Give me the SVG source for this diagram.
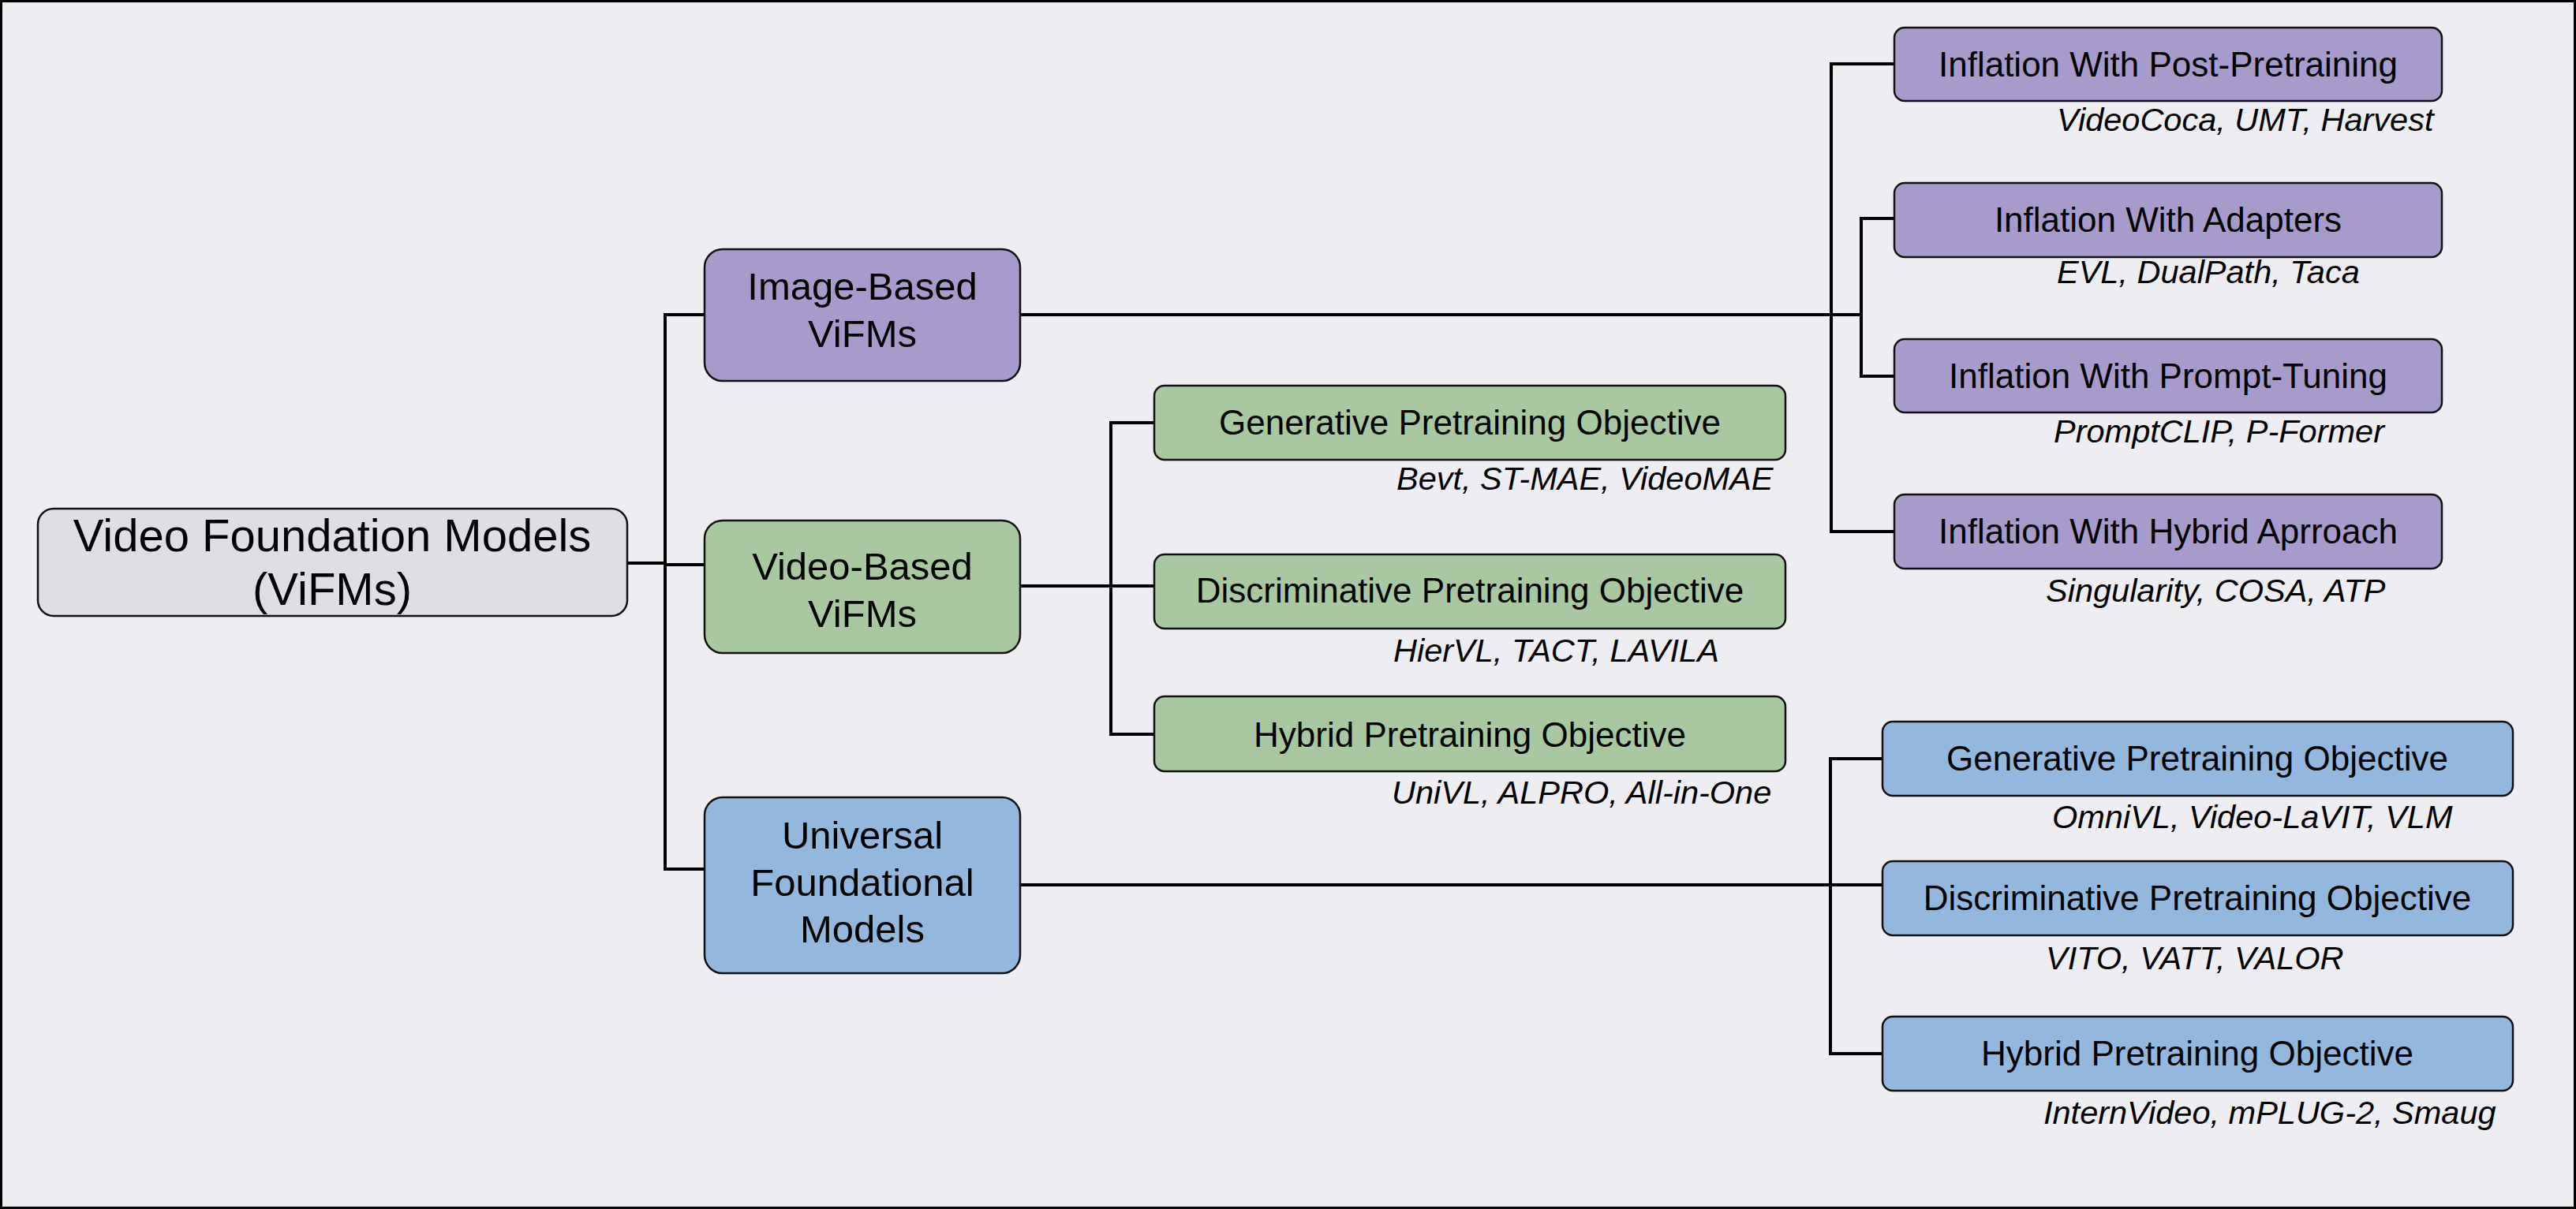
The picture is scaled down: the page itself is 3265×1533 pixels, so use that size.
<svg xmlns="http://www.w3.org/2000/svg" width="3265" height="1533" viewBox="0 0 3265 1533">
<style>
.box{stroke:#111;stroke-width:2.5}
.root{fill:#dfdee4}
.pur{fill:#a69bcb}
.grn{fill:#a9c8a2}
.blu{fill:#94b7de}
.lbl{font-family:"Liberation Sans",Arial,sans-serif;fill:#000;text-anchor:middle}
.cit{font-family:"Liberation Sans",Arial,sans-serif;font-style:italic;font-size:41.5px;fill:#000}
.s44{font-size:44px}
.s49{font-size:49px}
.s58{font-size:58px}
.conn{stroke:#000;stroke-width:4;fill:none;stroke-linecap:square}
</style>
<rect x="1.5" y="1.5" width="3262" height="1530" fill="#eeedf2" stroke="#000" stroke-width="3"/>
<g id="connectors">
<path class="conn" d="M795,714 H843 M843,399 V1102 M843,399 H893 M843,716 H893 M843,1102 H893"/>
<path class="conn" d="M1293,399 H2359 M2321,81 V674 M2359,277 V477 M2321,81 H2401 M2359,277 H2401 M2359,477 H2401 M2321,674 H2401"/>
<path class="conn" d="M1293,743 H1463 M1408,536 V931 M1408,536 H1463 M1408,931 H1463"/>
<path class="conn" d="M1293,1122 H2386 M2320,962 V1336 M2320,962 H2386 M2320,1336 H2386"/>
</g>
<g id="root">
<rect class="box root" x="48" y="645" width="747" height="136" rx="20"/>
<text class="lbl s58" x="421" y="699">Video Foundation Models</text>
<text class="lbl s58" x="421" y="767">(ViFMs)</text>
</g>
<g id="image-based">
<rect class="box pur" x="893" y="316" width="400" height="167" rx="23"/>
<text class="lbl s49" x="1093" y="380">Image-Based</text>
<text class="lbl s49" x="1093" y="440">ViFMs</text>
</g>
<g id="video-based">
<rect class="box grn" x="893" y="660" width="400" height="168" rx="23"/>
<text class="lbl s49" x="1093" y="735">Video-Based</text>
<text class="lbl s49" x="1093" y="795">ViFMs</text>
</g>
<g id="universal">
<rect class="box blu" x="893" y="1011" width="400" height="223" rx="23"/>
<text class="lbl s49" x="1093" y="1076">Universal</text>
<text class="lbl s49" x="1093" y="1136">Foundational</text>
<text class="lbl s49" x="1093" y="1195">Models</text>
</g>
<g id="inflation-post">
<rect class="box pur" x="2401" y="35" width="694" height="93" rx="13"/>
<text class="lbl s44" x="2748" y="97">Inflation With Post-Pretraining</text>
<text class="cit" x="2607" y="166">VideoCoca, UMT, Harvest</text>
</g>
<g id="inflation-adapters">
<rect class="box pur" x="2401" y="232" width="694" height="94" rx="13"/>
<text class="lbl s44" x="2748" y="294">Inflation With Adapters</text>
<text class="cit" x="2607" y="359">EVL, DualPath, Taca</text>
</g>
<g id="inflation-prompt">
<rect class="box pur" x="2401" y="430" width="694" height="93" rx="13"/>
<text class="lbl s44" x="2748" y="492">Inflation With Prompt-Tuning</text>
<text class="cit" x="2603" y="561">PromptCLIP, P-Former</text>
</g>
<g id="inflation-hybrid">
<rect class="box pur" x="2401" y="627" width="694" height="94" rx="13"/>
<text class="lbl s44" x="2748" y="689">Inflation With Hybrid Aprroach</text>
<text class="cit" x="2593" y="763">Singularity, COSA, ATP</text>
</g>
<g id="video-generative">
<rect class="box grn" x="1463" y="489" width="800" height="94" rx="13"/>
<text class="lbl s44" x="1863" y="551">Generative Pretraining Objective</text>
<text class="cit" x="1770" y="621">Bevt, ST-MAE, VideoMAE</text>
</g>
<g id="video-discriminative">
<rect class="box grn" x="1463" y="703" width="800" height="94" rx="13"/>
<text class="lbl s44" x="1863" y="764">Discriminative Pretraining Objective</text>
<text class="cit" x="1766" y="839">HierVL, TACT, LAVILA</text>
</g>
<g id="video-hybrid">
<rect class="box grn" x="1463" y="883" width="800" height="95" rx="13"/>
<text class="lbl s44" x="1863" y="947">Hybrid Pretraining Objective</text>
<text class="cit" x="1764" y="1019">UniVL, ALPRO, All-in-One</text>
</g>
<g id="universal-generative">
<rect class="box blu" x="2386" y="915" width="799" height="94" rx="13"/>
<text class="lbl s44" x="2785" y="977">Generative Pretraining Objective</text>
<text class="cit" x="2601" y="1050">OmniVL, Video-LaVIT, VLM</text>
</g>
<g id="universal-discriminative">
<rect class="box blu" x="2386" y="1092" width="799" height="94" rx="13"/>
<text class="lbl s44" x="2785" y="1154">Discriminative Pretraining Objective</text>
<text class="cit" x="2593" y="1229">VITO, VATT, VALOR</text>
</g>
<g id="universal-hybrid">
<rect class="box blu" x="2386" y="1289" width="799" height="94" rx="13"/>
<text class="lbl s44" x="2785" y="1351">Hybrid Pretraining Objective</text>
<text class="cit" x="2590" y="1425">InternVideo, mPLUG-2, Smaug</text>
</g>
</svg>
